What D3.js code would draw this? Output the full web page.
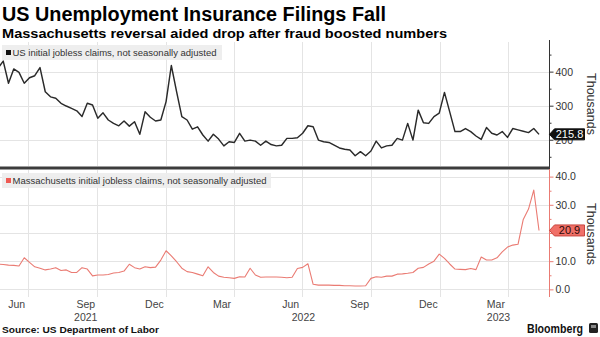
<!DOCTYPE html>
<html><head><meta charset="utf-8">
<script src="https://cdn.jsdelivr.net/npm/d3@7"></script>
<style>body{margin:0;background:#fff}svg{display:block}text{font-family:"Liberation Sans",Arial,sans-serif}</style>
</head><body><svg id="c" width="600" height="337"></svg>
<script>
// ---- data (weekly, week ending Saturday, starting 2021-05-22) ----
const firstWeek = "2021-05-22";
const usClaims = [410,431,366,408,398,366,382,388,412,341,326,322,307,299,292,285,268,307,302,263,
  279,258,248,241,255,240,253,216,282,266,255,258,312,418,341,268,258,231,238,214,
  196,216,202,182,194,192,219,196,199,196,184,196,186,182,184,204,204,206,219,241,
  238,199,194,192,184,176,172,170,153,165,153,167,196,176,182,184,204,199,248,199,
  287,250,248,268,278,339,282,224,224,233,224,211,201,236,219,214,224,207,233,229,
  225,221,233,215.8];
const maClaims = [9.0,8.8,8.6,8.5,8.3,11.2,9.6,8.0,7.5,6.9,7.2,7.7,6.7,6.9,6.0,6.0,7.7,7.2,4.8,5.1,
  5.1,5.3,5.8,6.0,6.5,8.9,7.7,7.2,8.0,7.7,7.9,10.4,13.7,11.9,9.8,7.5,6.3,6.0,5.4,4.8,
  8.0,6.0,4.7,4.3,4.1,3.9,4.5,4.4,7.5,5.1,4.3,4.4,4.4,4.4,4.3,4.1,4.3,7.4,7.8,9.1,
  1.8,1.5,1.5,1.5,1.4,1.4,1.3,1.3,1.2,1.2,1.3,3.9,4.5,4.3,4.7,4.7,5.4,5.5,5.7,6.0,
  7.5,7.8,9.0,10.0,12.5,11.0,9.0,7.2,7.1,7.0,7.4,7.0,11.5,10.4,10.4,11.2,13.3,15.0,15.7,16.0,
  24.8,28.5,35.2,20.9];
const gridMonths = ["2021-07-01","2021-10-01","2022-01-01","2022-04-01","2022-07-01","2022-10-01","2023-01-01","2023-04-01"];
const monthLabels = ["Jun","Sep","Dec","Mar","Jun","Sep","Dec","Mar"];
const yearLabels = ["2021","2022","2023"];
const yearDates = ["2021-09-16","2022-07-03","2023-03-20"];
const usTicks = [200,300,400];
const usMinor = [150,250,350,450];
const maTicks = [0,10,20,30,40];
const maLabelled = [0,10,30,40];
const maMinor = [5,15,25,35];

const svg = d3.select("#c");
const parse = d3.utcParse("%Y-%m-%d");
const t0 = parse(firstWeek);
const dates = usClaims.map((_, i) => d3.utcDay.offset(t0, 7 * i));

const plotR = 549;
const x = d3.scaleUtc().domain([parse("2021-07-01"), parse("2023-04-01")]).range([28, 507.5]);
const yTop = d3.scaleLinear().domain([120, 487]).range([167, 42]);
const yBot = d3.scaleLinear().domain([-2.0, 42.7]).range([295, 169]);

const MA = "#ea7b73";

// titles
svg.append("text").attr("x", 2).attr("y", 21).attr("font-size", 20).attr("font-weight", "bold")
  .attr("fill", "#000").attr("textLength", 384).attr("lengthAdjust", "spacingAndGlyphs")
  .text("US Unemployment Insurance Filings Fall");
svg.append("text").attr("x", 2).attr("y", 38).attr("font-size", 13.5).attr("font-weight", "bold")
  .attr("fill", "#000").attr("textLength", 445).attr("lengthAdjust", "spacingAndGlyphs")
  .text("Massachusetts reversal aided drop after fraud boosted numbers");

// clip paths
const defs = svg.append("defs");
defs.append("clipPath").attr("id", "clipTop").append("rect").attr("x", 0).attr("y", 42).attr("width", plotR).attr("height", 125);
defs.append("clipPath").attr("id", "clipBot").append("rect").attr("x", 0).attr("y", 170).attr("width", plotR).attr("height", 126);

// gridlines
const grid = svg.append("g").attr("stroke", "#e4e4e4").attr("stroke-width", 1);
gridMonths.forEach(m => {
  const gx = Math.round(x(parse(m))) + 0.5;
  grid.append("line").attr("x1", gx).attr("x2", gx).attr("y1", 42).attr("y2", 166);
  grid.append("line").attr("x1", gx).attr("x2", gx).attr("y1", 170).attr("y2", 297);
});
usTicks.forEach(v => { const gy = Math.round(yTop(v)) + 0.5;
  grid.append("line").attr("x1", 0).attr("x2", plotR).attr("y1", gy).attr("y2", gy); });
maTicks.forEach(v => { const gy = Math.round(yBot(v)) + 0.5;
  grid.append("line").attr("x1", 0).attr("x2", plotR).attr("y1", gy).attr("y2", gy); });

// lines
const lineTop = d3.line().x((d, i) => x(dates[i])).y(d => yTop(d));
const lineBot = d3.line().x((d, i) => x(dates[i])).y(d => yBot(d));
svg.append("path").datum(usClaims).attr("clip-path", "url(#clipTop)").attr("d", lineTop)
  .attr("fill", "none").attr("stroke", "#2a2a2a").attr("stroke-width", 1.45).attr("stroke-linejoin", "round");
svg.append("path").datum(maClaims).attr("clip-path", "url(#clipBot)").attr("d", lineBot)
  .attr("fill", "none").attr("stroke", MA).attr("stroke-width", 1.1).attr("stroke-linejoin", "round");

// separator
svg.append("rect").attr("x", 0).attr("y", 166.5).attr("width", 550).attr("height", 3).attr("fill", "#3c3c3c");

// right axes
const axTop = svg.append("g").attr("transform", `translate(${plotR + 0.5},0)`);
axTop.call(d3.axisRight(yTop).tickValues(usTicks).tickSize(4).tickFormat(d3.format("d")));
axTop.append("g").call(d3.axisRight(yTop).tickValues(usMinor).tickSize(2).tickFormat(""));
axTop.selectAll(".domain").remove();
axTop.append("line").attr("x1", 0).attr("x2", 0).attr("y1", 40).attr("y2", 167).attr("stroke", "#333");
axTop.selectAll(".tick line").attr("stroke", "#333");
axTop.selectAll(".tick text").attr("font-size", 10.5).attr("fill", "#333").attr("x", 6).attr("font-family", "Liberation Sans, Arial, sans-serif");

const axBot = svg.append("g").attr("transform", `translate(${plotR + 0.5},0)`);
axBot.call(d3.axisRight(yBot).tickValues(maTicks).tickSize(4).tickFormat(""));
axBot.append("g").call(d3.axisRight(yBot).tickValues(maLabelled).tickSize(0).tickFormat(d3.format(".1f")));
axBot.append("g").call(d3.axisRight(yBot).tickValues(maMinor).tickSize(2).tickFormat(""));
axBot.selectAll(".domain").remove();
axBot.append("line").attr("x1", 0).attr("x2", 0).attr("y1", 169).attr("y2", 297).attr("stroke", MA);
axBot.selectAll(".tick line").attr("stroke", MA);
axBot.selectAll(".tick text").attr("font-size", 10.5).attr("fill", "#333").attr("x", 6).attr("font-family", "Liberation Sans, Arial, sans-serif");

// Thousands
[[104], [234]].forEach(([cy]) => {
  svg.append("text").attr("transform", `translate(587,${cy}) rotate(90)`).attr("text-anchor", "middle")
    .attr("font-size", 12.5).attr("fill", "#333").text("Thousands");
});

// value labels
function valueTag(cy, txt, fill, stroke, tc) {
  const p = d3.path();
  p.moveTo(549.5, cy); p.lineTo(554.5, cy - 5.5); p.lineTo(584.5, cy - 5.5);
  p.lineTo(584.5, cy + 5.5); p.lineTo(554.5, cy + 5.5); p.closePath();
  svg.append("path").attr("d", p.toString()).attr("fill", fill).attr("stroke", stroke).attr("stroke-width", 1);
  svg.append("text").attr("x", 569.5).attr("y", cy + 4).attr("text-anchor", "middle")
    .attr("font-size", 11).attr("fill", tc).text(txt);
}
valueTag(yTop(usClaims[usClaims.length - 1]), d3.format(".1f")(usClaims[usClaims.length - 1]), "#111", "#111", "#fff");
valueTag(yBot(maClaims[maClaims.length - 1]), d3.format(".1f")(maClaims[maClaims.length - 1]), "#f07068", "#c8463f", "#2a0a08");

// legends
function legend(y0, w, col, txt, tl) {
  svg.append("rect").attr("x", 2).attr("y", y0).attr("width", w).attr("height", 15).attr("fill", "#ececec").attr("opacity", 0.9);
  svg.append("rect").attr("x", 6).attr("y", y0 + 5).attr("width", 5).attr("height", 5).attr("fill", col);
  svg.append("text").attr("x", 12.5).attr("y", y0 + 10.5).attr("font-size", 9.5).attr("fill", "#333")
    .attr("textLength", tl).attr("lengthAdjust", "spacingAndGlyphs").text(txt);
}
legend(45, 220, "#111", "US initial jobless claims, not seasonally adjusted", 204);
legend(173, 269, "#ef5a53", "Massachusetts initial jobless claims, not seasonally adjusted", 254);

// x labels
const xl = svg.append("g").attr("font-size", 10.5).attr("fill", "#444").attr("text-anchor", "middle");
gridMonths.forEach((m, i) => {
  const end = parse(m), start = d3.utcMonth.offset(end, -1);
  xl.append("text").attr("x", (x(start) + x(end)) / 2).attr("y", 308).text(monthLabels[i]);
});
yearLabels.forEach((yl, i) => {
  xl.append("text").attr("x", x(parse(yearDates[i]))).attr("y", 321).text(yl);
});

// footer
svg.append("text").attr("x", 2).attr("y", 333).attr("font-size", 9.5).attr("font-weight", "bold").attr("fill", "#111")
  .attr("textLength", 157).attr("lengthAdjust", "spacingAndGlyphs").text("Source: US Department of Labor");
svg.append("text").attr("x", 527).attr("y", 333).attr("font-size", 12).attr("font-weight", "bold").attr("fill", "#111")
  .attr("textLength", 56).attr("lengthAdjust", "spacingAndGlyphs").text("Bloomberg");
svg.append("rect").attr("x", 589).attr("y", 323).attr("width", 9).attr("height", 10).attr("rx", 1.5).attr("fill", "#222");
svg.append("rect").attr("x", 591).attr("y", 325).attr("width", 5).attr("height", 3).attr("fill", "#888");
</script></body></html>
